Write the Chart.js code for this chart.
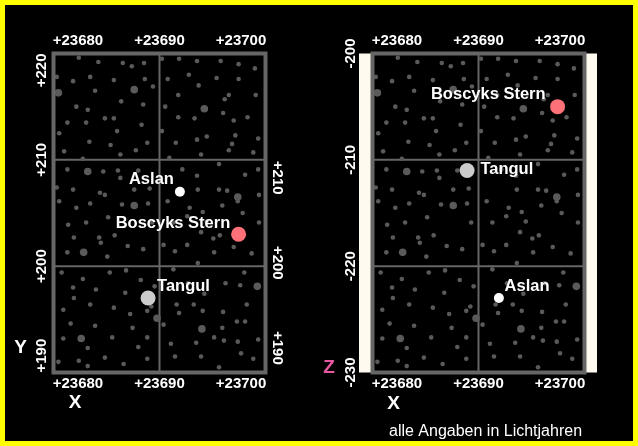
<!DOCTYPE html>
<html lang="de">
<head>
<meta charset="utf-8">
<title>Sternkarte X/Y und X/Z</title>
<script src="https://cdn.jsdelivr.net/npm/chart.js@4.4.1/dist/chart.umd.min.js"></script>
<style>
  html, body { margin: 0; padding: 0; background: #ffff00; }
  #rahmen { position: relative; width: 638px; height: 446px; background: #ffff00; overflow: hidden; }
  #innen { position: absolute; left: 5px; top: 5px; width: 628px; height: 436px; background: #000; }
  canvas { position: absolute; left: 0; top: 0; }
</style>
</head>
<body>
<div id="rahmen">
  <div id="innen"></div>
  <canvas id="xyChart" width="638" height="446"></canvas>
  <canvas id="xzChart" width="638" height="446"></canvas>
</div>
<script>
// Benannte Sterne (Lichtjahre)
const namen = ["Aslan", "Boscyks Stern", "Tangul"];
const posX = [23692.5, 23699.7, 23688.6];
const posY = [207, 203, 197];
const posZ = [-223, -205, -211];

// Achsenbeschriftungen
const xTicks = [23680, 23690, 23700];
const yTicks = [190, 200, 210, 220];
const yTicksRechts = [190, 200, 210];
const zTicks = [-230, -220, -210, -200];

// Gitterlinien
const xGitter = [23690];
const yGitter = [200, 210];
const zGitter = [-220, -210];

// Hintergrund-Sterne (X/Y-Koordinaten)
const sterneKlein = [
  [23680.1,219.6],[23682.5,219.2],[23685.5,219.1],[23686.6,218.8],[23688.1,219.1],[23690.3,219.5],[23692.4,219.5],[23694.6,219.3],[23697.5,219.3],[23699.7,219.0],[23701.7,218.6],
  [23677.4,217.8],[23679.4,217.4],[23681.5,217.8],[23684.4,217.5],[23688.2,217.6],[23689.2,216.9],[23691.0,217.6],[23693.6,218.0],[23694.8,217.0],[23697.0,217.7],[23699.7,217.6],
  [23682.1,216.5],[23692.3,216.1],[23698.5,216.1],[23701.8,216.1],[23698.0,215.7],[23685.3,215.5],[23688.0,215.2],[23679.8,215.0],[23681.2,214.7],[23690.7,215.0],[23697.8,214.4],
  [23683.3,213.9],[23684.4,213.9],[23692.3,214.0],[23694.3,213.9],[23700.8,214.0],[23699.1,213.7],[23678.7,213.5],[23681.0,213.5],[23687.8,213.3],
  [23677.7,212.5],[23684.8,212.7],[23690.3,212.7],[23699.3,212.3],[23695.8,212.2],[23694.6,211.9],[23702.1,212.0],[23681.4,211.7],[23684.0,211.4],[23688.5,211.6],[23692.0,211.6],[23698.9,211.5],
  [23678.3,210.8],[23685.2,210.5],[23687.1,210.9],[23695.1,210.5],[23698.5,210.9],[23701.5,210.7],[23691.2,210.2],[23680.6,210.1],
  [23678.7,209.1],[23683.1,208.9],[23684.9,209.0],[23687.4,209.0],[23692.8,209.1],[23694.6,208.5],[23697.3,209.6],[23700.5,208.6],[23702.1,209.1],[23685.2,208.3],
  [23677.4,207.4],[23679.4,207.2],[23682.7,206.9],[23683.3,206.7],[23686.9,207.2],[23688.8,207.3],[23694.7,207.2],[23697.3,207.2],[23698.3,207.1],[23702.2,206.7],
  [23677.7,206.1],[23679.8,205.5],[23681.5,205.9],[23685.4,205.8],[23688.6,205.9],[23691.0,206.1],[23693.7,205.5],[23695.3,205.1],[23697.7,205.7],[23699.6,206.1],
  [23678.8,203.9],[23681.0,204.1],[23683.7,204.6],[23689.1,204.1],[23691.7,204.1],[23693.4,204.7],[23695.8,204.2],[23700.2,205.0],[23702.2,204.1],
  [23679.5,202.7],[23682.6,202.7],[23682.8,202.2],[23684.5,202.9],[23686.1,201.9],[23688.0,201.6],[23690.5,202.0],[23693.4,202.0],[23695.1,203.2],[23696.6,202.6],[23697.4,202.9],[23699.1,201.8],
  [23678.7,201.3],[23683.6,200.9],[23691.9,201.4],[23694.7,200.3],[23696.7,201.3],[23701.3,201.2],
  [23678.0,199.4],[23680.6,198.8],[23683.9,199.4],[23685.9,199.6],[23687.7,198.7],[23691.7,199.7],[23693.5,198.4],[23698.1,198.4],[23700.4,199.4],
  [23679.4,198.0],[23682.2,197.8],[23685.8,197.5],[23689.4,198.1],[23695.5,197.4],[23699.9,198.2],
  [23679.5,197.0],[23681.5,196.4],[23684.4,196.1],[23686.4,195.5],[23688.5,195.8],[23689.0,196.2],[23692.1,196.4],[23692.4,195.6],[23694.2,196.4],[23695.3,195.8],[23697.8,195.7],[23699.5,194.8],[23700.7,196.4],[23700.5,194.8],
  [23678.2,195.9],[23679.1,194.6],[23682.1,194.4],[23686.7,194.2],[23690.5,194.5],[23697.7,194.2],
  [23678.2,193.2],[23684.2,193.3],[23688.5,193.3],[23691.4,192.7],[23694.5,192.8],[23696.7,193.3],[23699.6,192.9],[23702.1,193.1],
  [23681.2,192.3],[23687.4,192.4],[23697.9,193.0],
  [23683.3,191.4],[23688.5,191.3],[23691.9,191.5],[23695.1,191.5],[23700.0,191.8],[23701.5,191.3],
  [23677.6,191.0],[23680.1,191.1],[23681.2,190.6],[23685.6,190.8],[23697.3,190.5]
];
const sterneGross = [
  [23677.6,216.3],[23686.9,216.6],[23695.5,214.8],[23681.2,208.9],[23699.6,206.5],[23686.9,205.7],
  [23680.7,201.3],[23702.0,198.1],[23689.7,195.1],[23695.2,194.1],[23680.4,193.2]
];

// Stil
const FONT = "'Liberation Sans', Arial, sans-serif";
const GRAU = "#666666";
const STERN = "#5a5a5a";
const CREME = "#fffaf0";
const punktFarben = ["#ffffff", "#ff7179", "#cccccc"];
const punktRadien = [5, 7.5, 7.5];

/**
 * Formatiert einen Tickwert, z.B. 23680 -> "+23680"
 * @param {number} v
 * @returns {string}
 */
function fmt(v) {
  return v > 0 ? "+" + v : String(v);
}

/**
 * Zeichnet gedrehten Text, zentriert auf (x, y).
 */
function drawVertical(ctx, text, x, y, angle) {
  ctx.save();
  ctx.translate(x, y);
  ctx.rotate(angle);
  ctx.textAlign = "center";
  ctx.textBaseline = "middle";
  ctx.fillText(text, 0, 0);
  ctx.restore();
}

/**
 * Plugin für Rahmen, Gitter, Beschriftungen eines Panels.
 * @param {Object} cfg - Einstellungen des Panels
 */
function makePanelPlugin(cfg) {
  return {
    id: "panel",
    beforeDatasetsDraw(chart) {
      const { ctx, chartArea: a, scales } = chart;
      const h = a.bottom - a.top;
      ctx.save();
      if (cfg.creme) {
        ctx.fillStyle = CREME;
        ctx.fillRect(a.left - 13.5, a.top, 13.5, h);
        ctx.fillRect(a.right, a.top, 12.5, h);
      }
      ctx.strokeStyle = GRAU;
      ctx.lineWidth = 2;
      ctx.beginPath();
      cfg.gitterX.forEach((v) => {
        const px = scales.x.getPixelForValue(v);
        ctx.moveTo(px, a.top);
        ctx.lineTo(px, a.bottom);
      });
      cfg.gitterY.forEach((v) => {
        const py = scales.y.getPixelForValue(v);
        ctx.moveTo(a.left, py);
        ctx.lineTo(a.right, py);
      });
      ctx.stroke();
      ctx.restore();
    },
    afterDatasetsDraw(chart) {
      const { ctx, chartArea: a, scales } = chart;
      ctx.save();
      ctx.strokeStyle = GRAU;
      ctx.lineWidth = 4;
      ctx.strokeRect(a.left, a.top, a.right - a.left, a.bottom - a.top);

      // Tickbeschriftungen
      ctx.fillStyle = "#ffffff";
      ctx.font = "bold 15px " + FONT;
      ctx.textAlign = "center";
      ctx.textBaseline = "middle";
      xTicks.forEach((v) => {
        const px = scales.x.getPixelForValue(v);
        ctx.fillText(fmt(v), px, a.top - 12.5);
        ctx.fillText(fmt(v), px, a.bottom + 11.5);
      });
      cfg.linksTicks.forEach((v) => {
        let py = scales.y.getPixelForValue(v);
        const w = ctx.measureText(fmt(v)).width;
        if (cfg.klemmen) py = Math.min(Math.max(py, a.top + w / 2), a.bottom - w / 2);
        drawVertical(ctx, fmt(v), a.left - cfg.linksAbstand, py, -Math.PI / 2);
      });
      if (cfg.rechtsTicks) {
        cfg.rechtsTicks.forEach((v) => {
          const py = scales.y2.getPixelForValue(v);
          drawVertical(ctx, fmt(v), a.right + 11.5, py, Math.PI / 2);
        });
      }

      // Namen der Sterne
      ctx.font = "bold 16.5px " + FONT;
      const meta = chart.getDatasetMeta(0);
      meta.data.forEach((pt, i) => {
        const p = cfg.platz[i];
        ctx.textAlign = p.align;
        ctx.fillText(namen[i], pt.x + p.dx, pt.y + p.dy);
      });

      // Achsentitel
      ctx.font = "bold 19px " + FONT;
      ctx.textAlign = "center";
      cfg.titel.forEach((t) => {
        ctx.fillStyle = t.farbe;
        ctx.fillText(t.text, a.left + t.dx, a.bottom + t.dy);
      });

      if (cfg.fussnote) {
        ctx.font = "16px " + FONT;
        ctx.fillStyle = "#ffffff";
        ctx.textAlign = "left";
        ctx.fillText(cfg.fussnote, a.left + 16.5, a.bottom + 59.5);
      }
      ctx.restore();
    },
  };
}

/**
 * Erzeugt ein Panel (Streudiagramm) mit Sternen.
 */
function renderPanel(canvas, yWerte, scales, padding, cfg) {
  const benannt = namen.map((n, i) => ({ x: posX[i], y: yWerte[i] }));
  const sternAchse = cfg.sternAchse;
  return new Chart(canvas, {
    type: "scatter",
    data: {
      datasets: [
        {
          label: "Sterne",
          data: benannt,
          backgroundColor: punktFarben,
          pointRadius: punktRadien,
          borderWidth: 0,
          order: 0,
        },
        {
          label: "Hintergrund klein",
          data: sterneKlein.map(([x, y]) => ({ x, y })),
          yAxisID: sternAchse,
          backgroundColor: STERN,
          pointRadius: 2.3,
          borderWidth: 0,
          order: 1,
        },
        {
          label: "Hintergrund groß",
          data: sterneGross.map(([x, y]) => ({ x, y })),
          yAxisID: sternAchse,
          backgroundColor: STERN,
          pointRadius: 3.8,
          borderWidth: 0,
          order: 1,
        },
      ],
    },
    options: {
      responsive: false,
      animation: false,
      events: [],
      layout: { padding },
      plugins: { legend: { display: false }, tooltip: { enabled: false } },
      scales,
    },
    plugins: [makePanelPlugin(cfg)],
  });
}

function main() {
  const xAchse = { type: "linear", display: false, min: 23677, max: 23703 };

  renderPanel(
    document.querySelector("#xyChart"),
    posY,
    {
      x: xAchse,
      y: { type: "linear", display: false, min: 190, max: 220 },
      y2: { type: "linear", display: false, min: 187.1, max: 224.6 },
    },
    { left: 53.5, right: 372.5, top: 53.5, bottom: 73.5 },
    {
      creme: false,
      sternAchse: "y",
      gitterX: xGitter,
      gitterY: yGitter,
      linksTicks: yTicks,
      linksAbstand: 11.5,
      klemmen: true,
      rechtsTicks: yTicksRechts,
      platz: [
        { align: "right", dx: -6, dy: -12.2 },
        { align: "right", dx: -8.3, dy: -11.3 },
        { align: "left", dx: 9, dy: -12 },
      ],
      titel: [
        { text: "Y", farbe: "#ffffff", dx: -33, dy: -24.5 },
        { text: "X", farbe: "#ffffff", dx: 21.5, dy: 30.5 },
      ],
    }
  );

  renderPanel(
    document.querySelector("#xzChart"),
    posZ,
    {
      x: xAchse,
      y: { type: "linear", display: false, min: -230, max: -200 },
      ys: { type: "linear", display: false, min: 190, max: 220 },
    },
    { left: 372.5, right: 53.5, top: 53.5, bottom: 73.5 },
    {
      creme: true,
      sternAchse: "ys",
      gitterX: xGitter,
      gitterY: zGitter,
      linksTicks: zTicks,
      linksAbstand: 22,
      klemmen: false,
      rechtsTicks: null,
      platz: [
        { align: "left", dx: 5.7, dy: -11.7 },
        { align: "right", dx: -12, dy: -11.8 },
        { align: "left", dx: 13.3, dy: -1.3 },
      ],
      titel: [
        { text: "Z", farbe: "#e8579f", dx: -43.5, dy: -4.5 },
        { text: "X", farbe: "#ffffff", dx: 21, dy: 31 },
      ],
      fussnote: "alle Angaben in Lichtjahren",
    }
  );
}

main();
</script>
</body>
</html>
